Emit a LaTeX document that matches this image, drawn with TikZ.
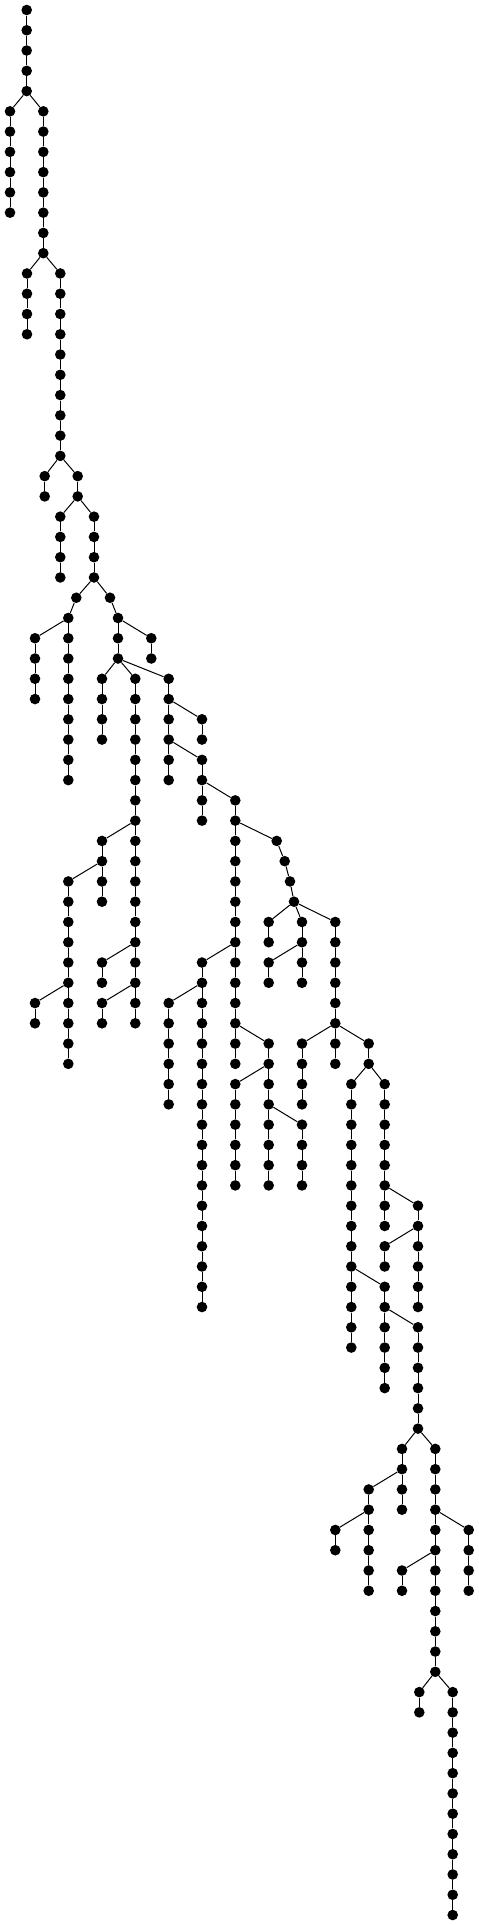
\documentclass[tikz,border=0pt]{standalone}
\usetikzlibrary{calc}
\tikzset{
  dot/.style={circle,fill=black,draw=none,inner sep=0pt,minimum size=10.6pt},
  edge/.style={draw=black,line width=1pt}
}
\newcommand\mkchain[4]{%
  \foreach \l in {#3,...,#4}{\node[dot] (#1-\l) at (#2,{-(10+20.266*\l)}) {};}%
  \ifnum#3<#4\relax
    \pgfmathtruncatemacro\chs{#3+1}%
    \foreach \l in {\chs,...,#4}{\pgfmathtruncatemacro\lp{\l-1}\draw[edge] (#1-\lp) -- (#1-\l);}%
  \fi
}
\newcommand\br[2]{\draw[edge] (#1) -- (#2);}
\begin{document}
\begin{tikzpicture}[x=1pt,y=1pt]
\useasboundingbox (0,0) rectangle (479,-1925);
\mkchain{r}{26.7}{0}{4}
\mkchain{a}{10}{5}{10}
\mkchain{b}{43.3}{5}{12}
\mkchain{c}{27}{13}{16}
\mkchain{d}{60.3}{13}{22}
\mkchain{e}{44.7}{23}{24}
\mkchain{f}{77.7}{23}{24}
\mkchain{g}{60.3}{25}{28}
\mkchain{h}{94}{25}{28}
\mkchain{i}{76.3}{29}{29}
\mkchain{j}{68.3}{30}{38}
\mkchain{k}{110}{29}{29}
\mkchain{l}{118}{30}{32}
\mkchain{m}{151.3}{31}{32}
\mkchain{n}{35}{31}{34}
\mkchain{o}{102}{33}{36}
\mkchain{p}{135.3}{33}{50}
\mkchain{q}{168.7}{33}{38}
\mkchain{s}{202}{35}{36}
\mkchain{t}{202}{37}{40}
\mkchain{u}{235.3}{39}{52}
\mkchain{v1}{276.7}{41}{41}
\mkchain{v2}{284.7}{42}{42}
\mkchain{v3}{290}{43}{43}
\mkchain{v4}{294}{44}{44}
\mkchain{w}{268.7}{45}{46}
\mkchain{x}{302}{45}{48}
\mkchain{y}{335.3}{45}{50}
\mkchain{z}{268.7}{47}{48}
\mkchain{A}{302}{51}{54}
\mkchain{B}{335.3}{51}{52}
\mkchain{C}{368.7}{51}{52}
\mkchain{D}{202}{47}{64}
\mkchain{E}{268.7}{51}{58}
\mkchain{F}{168.7}{49}{54}
\mkchain{G}{235.3}{53}{58}
\mkchain{H}{302}{55}{58}
\mkchain{I}{351.3}{53}{66}
\mkchain{J}{384.7}{53}{60}
\mkchain{K}{418}{59}{64}
\mkchain{L}{384.7}{61}{62}
\mkchain{M}{384.7}{63}{68}
\mkchain{N}{418}{65}{70}
\mkchain{O}{402}{71}{74}
\mkchain{P}{435.3}{71}{82}
\mkchain{Q}{368.7}{73}{78}
\mkchain{R}{335.3}{75}{76}
\mkchain{S}{468.7}{75}{78}
\mkchain{T}{402}{77}{78}
\mkchain{U}{419.3}{83}{84}
\mkchain{V}{452.7}{83}{94}
\mkchain{W}{102}{41}{44}
\mkchain{X}{68.3}{43}{52}
\mkchain{Y}{35}{49}{50}
\mkchain{Z}{102}{47}{48}
\mkchain{AA}{102}{49}{50}
\br{r-4}{a-5}\br{r-4}{b-5}
\br{b-12}{c-13}\br{b-12}{d-13}
\br{d-22}{e-23}\br{d-22}{f-23}
\br{f-24}{g-25}\br{f-24}{h-25}
\br{h-28}{i-29}\br{h-28}{k-29}
\br{i-29}{j-30}\br{j-30}{n-31}
\br{k-29}{l-30}\br{l-30}{m-31}
\br{l-32}{o-33}\br{l-32}{p-33}\br{l-32}{q-33}
\br{q-34}{s-35}\br{q-36}{t-37}\br{t-38}{u-39}
\br{u-40}{v1-41}\br{v1-41}{v2-42}\br{v2-42}{v3-43}\br{v3-43}{v4-44}
\br{v4-44}{w-45}\br{v4-44}{x-45}\br{v4-44}{y-45}
\br{x-46}{z-47}
\br{y-50}{A-51}\br{y-50}{B-51}\br{y-50}{C-51}
\br{u-46}{D-47}\br{u-50}{E-51}
\br{D-48}{F-49}
\br{E-52}{G-53}\br{E-54}{H-55}
\br{C-52}{I-53}\br{C-52}{J-53}
\br{J-58}{K-59}\br{K-60}{L-61}
\br{I-62}{M-63}\br{M-64}{N-65}
\br{N-70}{O-71}\br{N-70}{P-71}
\br{O-72}{Q-73}\br{Q-74}{R-75}
\br{P-74}{S-75}\br{P-76}{T-77}
\br{P-82}{U-83}\br{P-82}{V-83}
\br{p-40}{W-41}\br{W-42}{X-43}\br{X-48}{Y-49}
\br{p-46}{Z-47}\br{p-48}{AA-49}
\end{tikzpicture}
\end{document}
